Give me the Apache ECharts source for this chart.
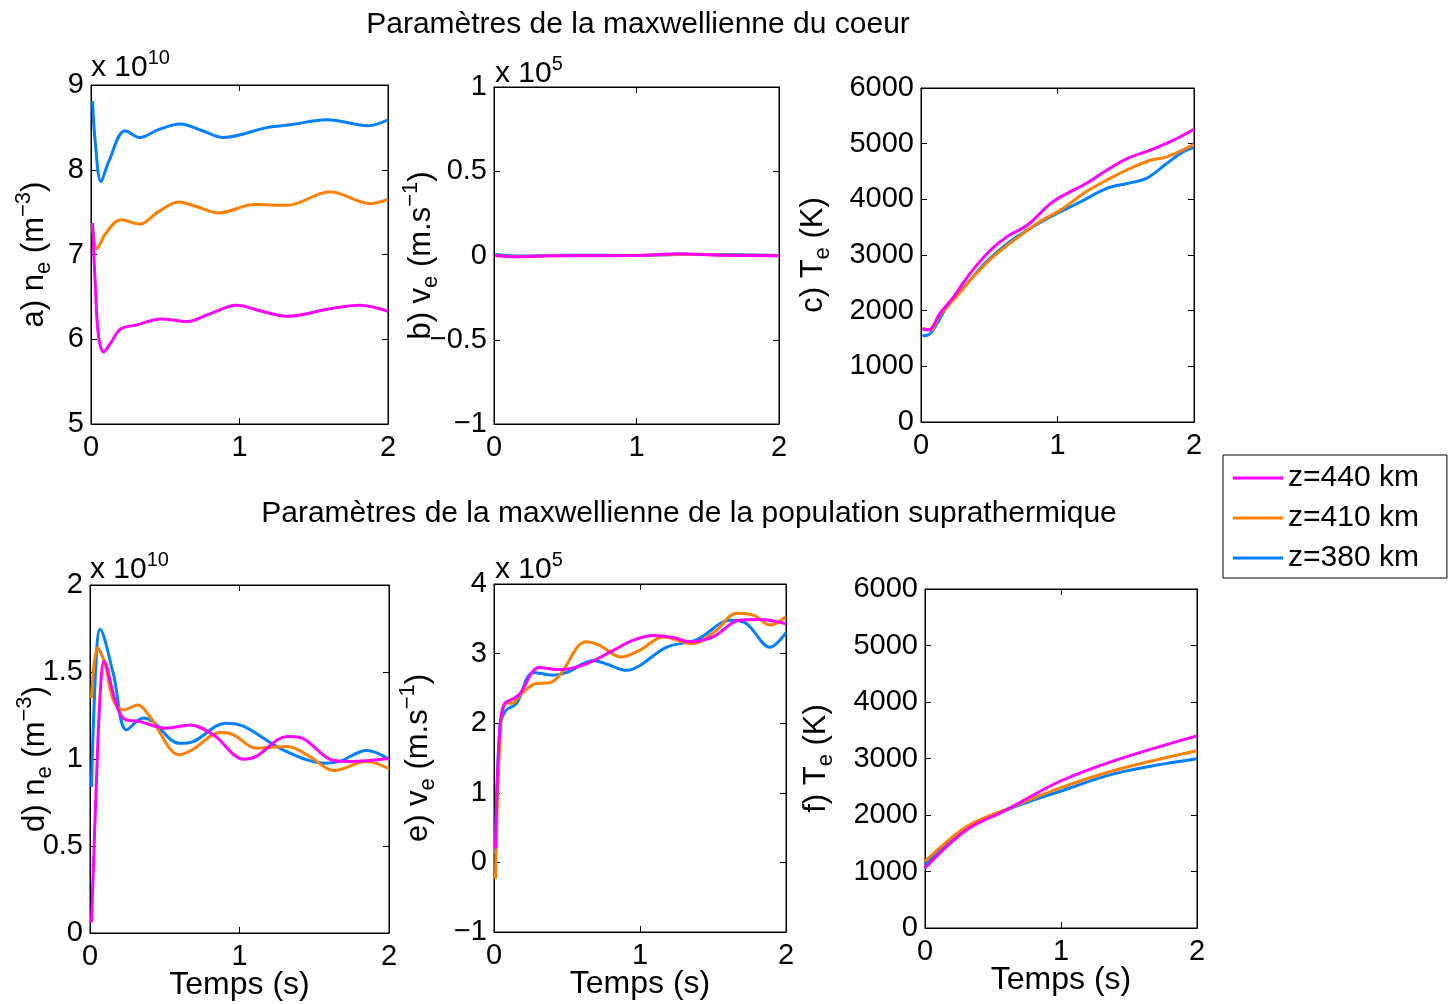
<!DOCTYPE html>
<html>
<head>
<meta charset="utf-8">
<script src="https://cdn.jsdelivr.net/npm/echarts@6/dist/echarts.min.js"></script>
<style>html,body{margin:0;padding:0;background:#fff}#c{width:1455px;height:1004px}</style>
</head>
<body>
<div id="c"></div>
<script>
// ---------- DATA (time in s, values in displayed axis units) ----------
const seriesNames = ['z=440 km', 'z=410 km', 'z=380 km'];
const titleCore = 'Paramètres de la maxwellienne du coeur';
const titleSupra = 'Paramètres de la maxwellienne de la population suprathermique';
const xLabel = 'Temps (s)';

// a) core density (x 1e10 m^-3)
const aNe440 = [[0.01,7.37],[0.03,6.6],[0.05,6.05],[0.085,5.85],[0.13,5.95],[0.2,6.12],[0.31,6.17],[0.47,6.24],[0.65,6.21],[0.8,6.3],[0.98,6.40],[1.15,6.33],[1.32,6.27],[1.61,6.36],[1.81,6.40],[2.0,6.33]];
const aNe410 = [[0.01,7.35],[0.04,7.07],[0.1,7.25],[0.2,7.41],[0.33,7.36],[0.45,7.5],[0.59,7.62],[0.72,7.56],[0.86,7.49],[1.1,7.59],[1.32,7.58],[1.61,7.74],[1.88,7.60],[2.0,7.65]];
const aNe380 = [[0.01,8.81],[0.03,8.3],[0.067,7.86],[0.12,8.1],[0.23,8.46],[0.33,8.38],[0.45,8.47],[0.60,8.54],[0.75,8.46],[0.89,8.38],[1.19,8.50],[1.34,8.53],[1.59,8.59],[1.87,8.52],[2.0,8.59]];

// b) core velocity (x 1e5 m/s)
const bVe440 = [[0.01,0.0],[0.15,-0.008],[0.4,-0.002],[1.0,0.0],[1.3,0.01],[1.6,0.002],[2.0,-0.002]];
const bVe410 = [[0.01,0.0],[0.15,-0.006],[0.5,0.0],[1.0,0.0],[1.3,0.008],[1.7,0.002],[2.0,0.0]];
const bVe380 = [[0.01,0.006],[0.2,-0.003],[0.5,0.002],[1.0,0.0],[1.3,0.006],[1.7,0.004],[2.0,0.0]];

// c) core temperature (K)
const cTe440 = [[0.01,1667],[0.056,1655],[0.14,1954],[0.24,2253],[0.36,2671],[0.51,3090],[0.63,3329],[0.78,3538],[0.95,3926],[1.07,4106],[1.21,4285],[1.36,4524],[1.51,4733],[1.68,4883],[1.85,5062],[2.0,5259]];
const cTe410 = [[0.01,1685],[0.07,1655],[0.14,1924],[0.26,2253],[0.385,2612],[0.53,2970],[0.70,3299],[0.87,3598],[1.04,3837],[1.19,4106],[1.36,4345],[1.53,4554],[1.68,4703],[1.80,4763],[2.0,4990]];
const cTe380 = [[0.01,1548],[0.056,1566],[0.12,1775],[0.19,2074],[0.34,2492],[0.48,2880],[0.65,3239],[0.82,3508],[1.02,3777],[1.17,3956],[1.36,4195],[1.51,4285],[1.65,4375],[1.80,4643],[1.92,4853],[2.0,4930]];

// d) suprathermal density (x 1e10 m^-3)
const dNe440 = [[0.01,0.06],[0.045,0.92],[0.07,1.4],[0.094,1.56],[0.167,1.34],[0.223,1.234],[0.334,1.215],[0.51,1.177],[0.67,1.196],[0.825,1.139],[1.03,0.999],[1.11,1.014],[1.32,1.129],[1.40,1.125],[1.63,0.991],[1.74,0.986],[2.0,1.003]];
const dNe410 = [[0.01,1.35],[0.051,1.64],[0.1,1.55],[0.156,1.34],[0.223,1.282],[0.32,1.31],[0.40,1.244],[0.60,1.024],[0.69,1.056],[0.87,1.152],[0.96,1.139],[1.11,1.062],[1.32,1.072],[1.47,1.014],[1.63,0.934],[1.85,0.986],[2.0,0.944]];
const dNe380 = [[0.01,0.84],[0.04,1.55],[0.067,1.745],[0.156,1.49],[0.245,1.167],[0.357,1.235],[0.42,1.215],[0.60,1.09],[0.69,1.10],[0.91,1.206],[1.03,1.187],[1.29,1.053],[1.58,0.976],[1.67,0.986],[1.85,1.049],[2.0,1.00]];

// e) suprathermal velocity (x 1e5 m/s)
const eVe440 = [[0.01,0.20],[0.04,1.94],[0.073,2.28],[0.13,2.35],[0.176,2.42],[0.31,2.80],[0.45,2.77],[0.63,2.85],[0.82,3.05],[0.95,3.19],[1.09,3.26],[1.23,3.23],[1.34,3.17],[1.50,3.24],[1.68,3.48],[1.82,3.49],[2.0,3.43]];
const eVe410 = [[0.01,-0.235],[0.04,1.75],[0.073,2.28],[0.13,2.29],[0.176,2.40],[0.29,2.57],[0.38,2.58],[0.45,2.69],[0.63,3.17],[0.72,3.12],[0.87,2.95],[1.0,3.05],[1.16,3.24],[1.36,3.14],[1.52,3.33],[1.66,3.58],[1.78,3.55],[1.89,3.41],[2.0,3.53]];
const eVe380 = [[0.01,0.125],[0.04,1.94],[0.08,2.18],[0.153,2.28],[0.27,2.73],[0.405,2.69],[0.50,2.73],[0.68,2.90],[0.77,2.85],[0.91,2.76],[1.0,2.83],[1.18,3.09],[1.39,3.20],[1.62,3.48],[1.73,3.43],[1.89,3.09],[2.0,3.30]];

// f) suprathermal temperature (K)
const fTe440 = [[0.0,1061],[0.307,1739],[0.60,2092],[0.99,2593],[1.41,2976],[2.0,3401]];
const fTe410 = [[0.0,1179],[0.307,1798],[0.60,2104],[0.99,2475],[1.41,2800],[2.0,3136]];
const fTe380 = [[0.0,1120],[0.307,1768],[0.60,2092],[0.99,2416],[1.41,2741],[2.0,2994]];

// axis tick settings [min, max, interval]
const xTicks = [0, 2, 1];
const aTicks = [5, 9, 1];
const bTicks = [-1, 1, 0.5];
const cTicks = [0, 6000, 1000];
const dTicks = [0, 2, 0.5];
const eTicks = [-1, 4, 1];
const fTicks = [0, 6000, 1000];

// ---------- CHART ----------
const FONT = "'Liberation Sans', Arial, Helvetica, sans-serif";
const colors = ['#FF00FF', '#FF8000', '#0080FF'];
const rich = {
  m: {fontSize: 31, fontFamily: FONT, color: '#000', lineHeight: 42},
  s: {fontSize: 22, fontFamily: FONT, color: '#000', lineHeight: 22, verticalAlign: 'bottom'},
  p: {fontSize: 22, fontFamily: FONT, color: '#000', lineHeight: 22, verticalAlign: 'top'}
};
const panels = [
  {grid:{left:91, top:85, width:297, height:339}, y:aTicks, name:'{m|a) n}{s|e}{m| (m}{p|\u22123}{m|)}', gap:36, data:[aNe440,aNe410,aNe380], xname:false},
  {grid:{left:494, top:87, width:285, height:337}, y:bTicks, name:'{m|b) v}{s|e}{m| (m.s}{p|\u22121}{m|)}', gap:52, data:[bVe440,bVe410,bVe380], xname:false},
  {grid:{left:921, top:88, width:273, height:334}, y:cTicks, name:'{m|c) T}{s|e}{m| (K)}', gap:87, data:[cTe440,cTe410,cTe380], xname:false},
  {grid:{left:90, top:585, width:299, height:348}, y:dTicks, name:'{m|d) n}{s|e}{m| (m}{p|\u22123}{m|)}', gap:34, data:[dNe440,dNe410,dNe380], xname:true},
  {grid:{left:494, top:584, width:292, height:348}, y:eTicks, name:'{m|e) v}{s|e}{m| (m.s}{p|\u22121}{m|)}', gap:55, data:[eVe440,eVe410,eVe380], xname:true},
  {grid:{left:925, top:589, width:272, height:339}, y:fTicks, name:'{m|f) T}{s|e}{m| (K)}', gap:88, data:[fTe440,fTe410,fTe380], xname:true}
];
const fmt = v => String(v).replace('-', '\u2212');
const grids = [], xAxes = [], yAxes = [], series = [];
const mkLine = () => ({show: true, onZero: false, lineStyle: {color: '#000', width: 1}});
const mkTick = () => ({show: true, inside: true, length: 6, lineStyle: {color: '#000', width: 1}});
panels.forEach((p, i) => {
  grids.push(Object.assign({show: true, borderColor: '#000', borderWidth: 1, backgroundColor: 'transparent',
    containLabel: false, outerBoundsMode: 'none'}, p.grid));
  xAxes.push({type:'value', gridIndex:i, position:'bottom', min:xTicks[0], max:xTicks[1], interval:xTicks[2],
    axisLine:mkLine(), axisTick:mkTick(), splitLine:{show:false},
    axisLabel:{fontSize:29, fontFamily:FONT, color:'#000', margin:9},
    name: p.xname ? xLabel : '', nameLocation:'middle', nameGap:36, nameMoveOverlap:false,
    nameTextStyle:{fontSize:32, fontFamily:FONT, color:'#000'}});
  xAxes.push({type:'value', gridIndex:i, position:'top', show:true, min:xTicks[0], max:xTicks[1], interval:xTicks[2],
    axisLine:mkLine(), axisTick:mkTick(), splitLine:{show:false}, axisLabel:{show:false}});
  yAxes.push({type:'value', gridIndex:i, position:'left', min:p.y[0], max:p.y[1], interval:p.y[2],
    axisLine:mkLine(), axisTick:mkTick(), splitLine:{show:false},
    axisLabel:{fontSize:29, fontFamily:FONT, color:'#000', margin:7, formatter:fmt},
    name:p.name, nameLocation:'middle', nameRotate:90, nameGap:p.gap, nameMoveOverlap:false,
    nameTextStyle:{rich:rich}});
  yAxes.push({type:'value', gridIndex:i, position:'right', show:true, min:p.y[0], max:p.y[1], interval:p.y[2],
    axisLine:mkLine(), axisTick:mkTick(), splitLine:{show:false}, axisLabel:{show:false}});
  [2,1,0].forEach(k => {
    series.push({type:'line', name:seriesNames[k], xAxisIndex:2*i, yAxisIndex:2*i, data:p.data[k],
      smooth:0.35, symbol:'none', showSymbol:false, clip:true,
      lineStyle:{color:colors[k], width:3}, itemStyle:{color:colors[k]}, z:3+(2-k)});
  });
});

const expoRich = {
  b: {fontSize: 30, fontFamily: FONT, fill: '#000', lineHeight: 40},
  t: {fontSize: 20, fontFamily: FONT, fill: '#000', lineHeight: 20, verticalAlign: 'top'}
};
function expo(left, top, e) {
  return {type:'text', left:left, top:top, style:{text:'{b|x 10}{t|' + e + '}', rich:expoRich, fill:'#000'}};
}

const option = {
  animation: false,
  backgroundColor: '#fff',
  textStyle: {fontFamily: FONT, color: '#000'},
  title: [
    {text: titleCore, left: 633, top: 5, textAlign: 'center', textStyle:{fontSize:30, fontWeight:'normal', fontFamily:FONT, color:'#000'}},
    {text: titleSupra, left: 684, top: 494, textAlign: 'center', textStyle:{fontSize:30, fontWeight:'normal', fontFamily:FONT, color:'#000'}}
  ],
  legend: {
    data: seriesNames, orient:'vertical', left:1223, top:455,
    backgroundColor:'#fff', borderColor:'#000', borderWidth:1, borderRadius:0,
    padding:[8, 28, 5, 10], itemGap:10, itemWidth:50, itemHeight:3, icon:'rect',
    textStyle:{fontSize:30, fontFamily:FONT, color:'#000'}
  },
  grid: grids, xAxis: xAxes, yAxis: yAxes, series: series,
  graphic: [expo(91, 48, '10'), expo(495, 54, '5'), expo(90, 550, '10'), expo(495, 550, '5')]
};
const chart = echarts.init(document.getElementById('c'), null, {renderer:'canvas'});
chart.setOption(option);
</script>
</body>
</html>
